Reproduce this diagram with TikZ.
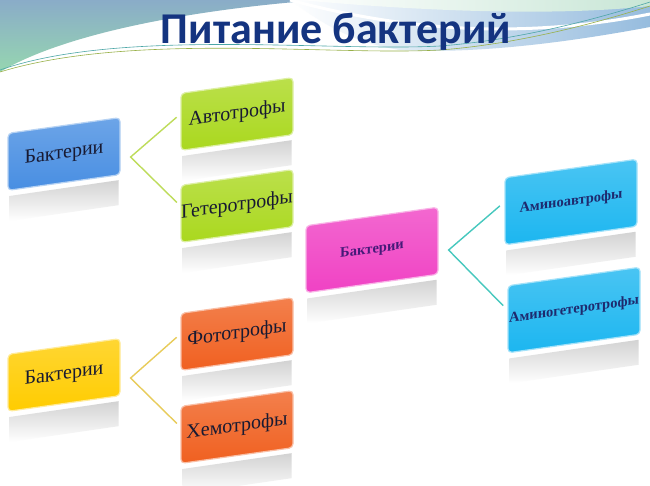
\documentclass[tikz,border=0pt]{standalone}
\usepackage{fontspec}
\setmainfont{Liberation Serif}
\newfontfamily\titlefont{Carlito}
\usepackage{tikz}
\usetikzlibrary{calc,positioning}
\pgfdeclarelayer{bg}
\pgfsetlayers{bg,main}

\definecolor{bandblue}{RGB}{138,172,200}
\definecolor{bandgreen}{RGB}{150,214,176}
\definecolor{bandlight}{RGB}{200,230,214}
\definecolor{bandsky}{RGB}{150,188,222}
\definecolor{titleblue}{RGB}{20,52,128}
\definecolor{boxblue}{RGB}{72,142,226}
\definecolor{boxlime}{RGB}{170,216,30}
\definecolor{boxpink}{RGB}{240,66,196}
\definecolor{boxcyan}{RGB}{28,182,240}
\definecolor{boxyellow}{RGB}{255,204,0}
\definecolor{boxorange}{RGB}{240,96,32}
\definecolor{inkdark}{RGB}{24,26,50}
\definecolor{inkpurple}{RGB}{70,26,120}
\definecolor{inknavy}{RGB}{30,42,110}
\definecolor{linelime}{RGB}{190,220,90}
\definecolor{lineteal}{RGB}{70,200,190}
\definecolor{linegold}{RGB}{232,204,90}

\tikzset{
  tile/.style={rounded corners=4pt, yslant=0.14, draw=#1!40!white, line width=1.2pt,
    top color=#1!80!white, bottom color=#1, text=inkdark,
    font=\fontsize{20}{23}\selectfont, minimum width=112pt, minimum height=57pt, inner sep=0pt},
  smalltile/.style={tile=#1, font=\bfseries\fontsize{14.5}{17}\selectfont,
    minimum width=132pt, minimum height=67pt},
  fork/.style={line width=1.4pt, shorten >=5pt, shorten <=5pt}
}

\begin{document}
\begin{tikzpicture}[x=1pt,y=1pt]
    \useasboundingbox (0,0) rectangle (650,-486);

    \node [font=\titlefont\bfseries\fontsize{44}{50}\selectfont, text=titleblue, anchor=base] (title) at (336,-44) { Питание бактерий };

    \node [tile=boxblue] (bact1) at (64,-154) { Бактерии };
    \node [tile=boxlime] (auto) at (237,-114) { Автотрофы };
    \node [tile=boxlime] (hetero) at (237,-206) { Гетеротрофы };
    \node [smalltile=boxpink, text=inkpurple] (bact2) at (372,-250) { Бактерии };
    \node [smalltile=boxcyan, text=inknavy] (amino1) at (571,-202) { Аминоавтрофы };
    \node [smalltile=boxcyan, text=inknavy] (amino2) at (574,-310) { Аминогетеротрофы };
    \node [tile=boxyellow] (bact3) at (64,-375) { Бактерии };
    \node [tile=boxorange] (photo) at (237,-334) { Фототрофы };
    \node [tile=boxorange] (chemo) at (237,-427) { Хемотрофы };

    \coordinate (f1) at ($(bact1.-8)+(10,-3)$);
    \coordinate (f2) at ($(bact2.-8)+(10,0)$);
    \coordinate (f3) at ($(bact3.-8)+(10,-3)$);

    \draw [fork, linelime] (auto.172) -- (f1) -- (hetero.172);
    \draw [fork, lineteal, shorten >=6pt, shorten <=6pt] (amino1.172) -- (f2) -- (amino2.172);
    \draw [fork, linegold] (photo.172) -- (f3) -- (chemo.172);

    \begin{pgfonlayer}{bg}    % background band and reflections
        \fill [white] (0,0) rectangle (650,-486);
        \shade [top color=bandblue, bottom color=bandgreen] (0,0) -- (320,0) .. controls (210,-8) and (70,-30) .. (0,-72) -- cycle;
        \shade [left color=white, right color=bandsky] (290,0) -- (650,0) -- (650,-27) .. controls (560,-44) and (470,-54) .. (400,-50) .. controls (350,-42) and (320,-22) .. (290,0) -- cycle;
        \shade [left color=white, right color=bandlight] (300,0) -- (650,0) -- (650,-6) .. controls (560,-16) and (430,-12) .. (300,0) -- cycle;
        \draw [line width=3pt, white] (290,0) .. controls (400,-30) and (520,-40) .. (650,-14);
        \draw [teal!70, line width=0.6pt] (0,-70) .. controls (120,-28) and (330,-52) .. (440,-46) .. controls (520,-40) and (600,-18) .. (650,-2);
        \draw [linelime!80!black, line width=0.6pt] (0,-72) .. controls (130,-32) and (330,-56) .. (440,-50) .. controls (520,-44) and (600,-22) .. (650,-6);
        \foreach \n in {bact1,auto,hetero,bact2,amino1,amino2,bact3,photo,chemo}
            \shade [top color=gray!35, bottom color=white] ($(\n.south west)+(2,-5)$) -- ($(\n.south east)+(-2,-5)$) -- ($(\n.south east)+(-2,-30)$) -- ($(\n.south west)+(2,-30)$) -- cycle;
    \end{pgfonlayer}
\end{tikzpicture}
\end{document}
